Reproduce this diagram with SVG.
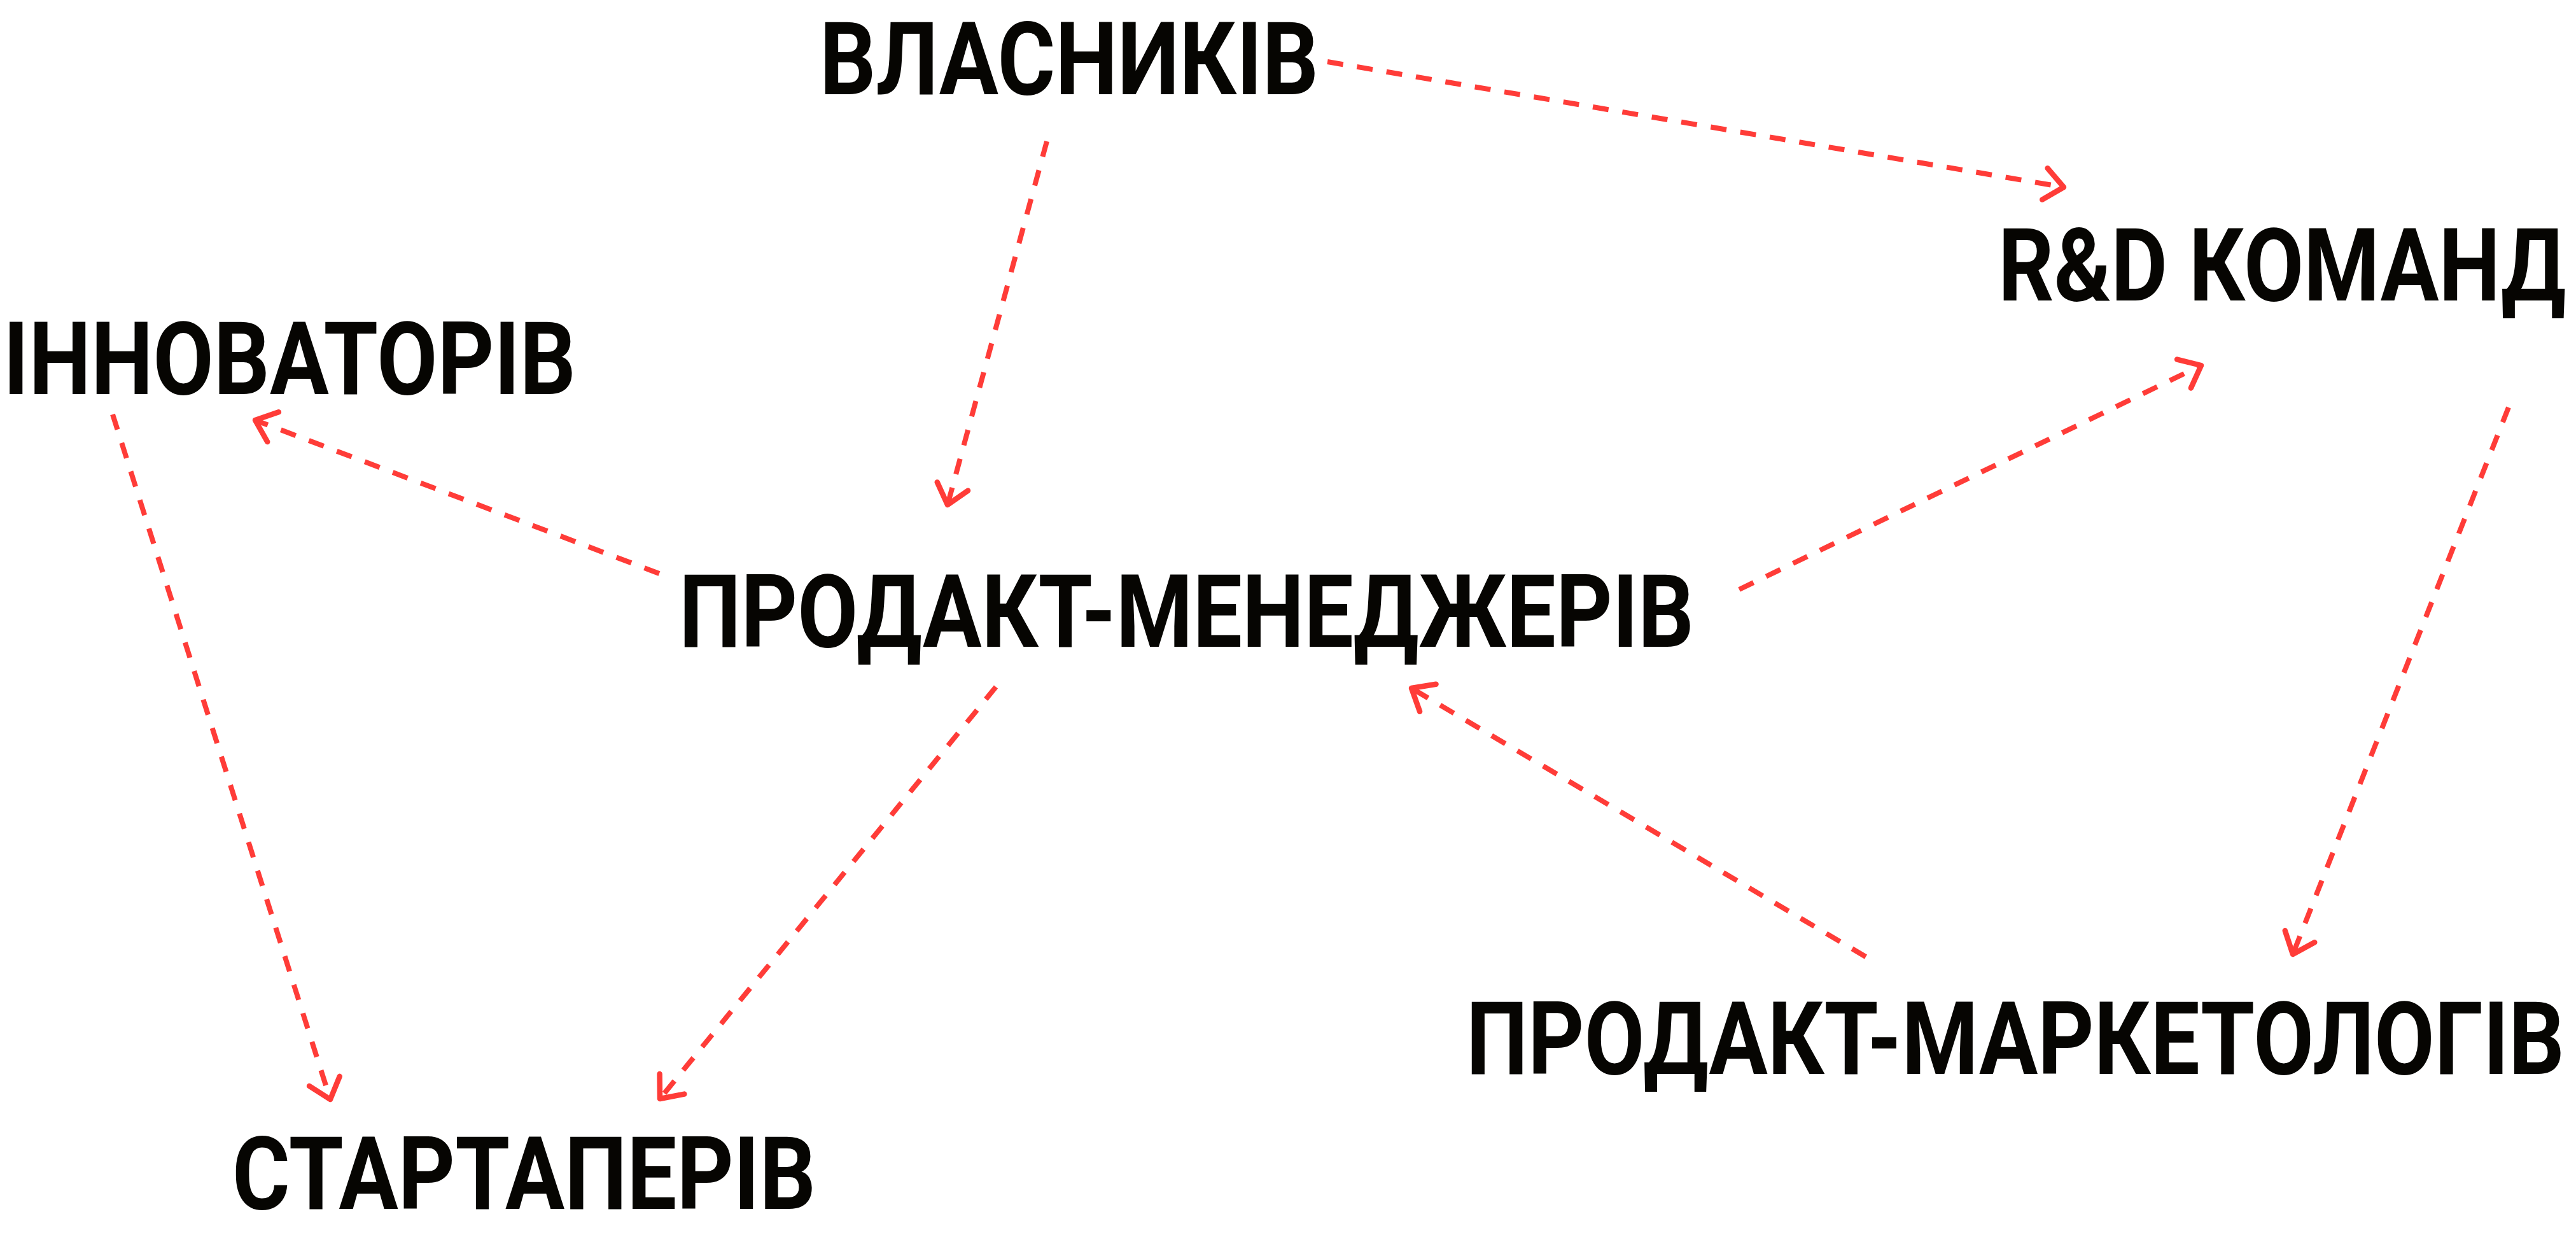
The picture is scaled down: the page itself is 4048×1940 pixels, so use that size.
<svg xmlns="http://www.w3.org/2000/svg" width="4048" height="1940" viewBox="0 0 4048 1940">
<style>
  .lbl { font-family: "Roboto", "Liberation Sans", sans-serif; font-weight: 700; font-size: 160px; fill: #060502; }
  .conn { fill: none; stroke: #ff3c38; stroke-width: 8; stroke-dasharray: 25 22; }
</style>
<defs>
  <marker id="arr" markerUnits="userSpaceOnUse" orient="auto" markerWidth="80" markerHeight="80" refX="0" refY="0" viewBox="-50 -40 60 80" overflow="visible">
    <path d="M -30 -25 L 0 0 L -30 25" fill="none" stroke="#ff3c38" stroke-width="8.5" stroke-linecap="round" stroke-linejoin="round"/>
  </marker>
</defs>
<rect width="4048" height="1940" fill="#ffffff"/>
<g id="connectors">
  <path class="conn" d="M 2086 97 L 3243 294" marker-end="url(#arr)"/>
  <path class="conn" d="M 1645 222 L 1489 793" marker-end="url(#arr)"/>
  <path class="conn" d="M 1036 901 L 401 660" marker-end="url(#arr)"/>
  <path class="conn" d="M 2733 926 L 3459 574" marker-end="url(#arr)"/>
  <path class="conn" d="M 1565 1079 L 1037 1726" marker-end="url(#arr)"/>
  <path class="conn" d="M 177 651 L 519 1727" marker-end="url(#arr)"/>
  <path class="conn" d="M 3942 640 L 3603 1499" marker-end="url(#arr)"/>
  <path class="conn" d="M 2932 1503 L 2218 1081" marker-end="url(#arr)"/>
</g>
<g id="node-vlasnykiv"><text class="lbl" x="1288" y="148" textLength="784" lengthAdjust="spacingAndGlyphs">ВЛАСНИКІВ</text></g>
<g id="node-rd"><text class="lbl" x="3140" y="472" textLength="892" lengthAdjust="spacingAndGlyphs">R&amp;D КОМАНД</text></g>
<g id="node-innovatoriv"><text class="lbl" x="5" y="619" textLength="900" lengthAdjust="spacingAndGlyphs">ІННОВАТОРІВ</text></g>
<g id="node-pm"><text class="lbl" x="1067" y="1016" textLength="1595" lengthAdjust="spacingAndGlyphs">ПРОДАКТ-МЕНЕДЖЕРІВ</text></g>
<g id="node-pmm"><text class="lbl" x="2304" y="1687" textLength="1726" lengthAdjust="spacingAndGlyphs">ПРОДАКТ-МАРКЕТОЛОГІВ</text></g>
<g id="node-startaperiv"><text class="lbl" x="365" y="1899" textLength="917" lengthAdjust="spacingAndGlyphs">СТАРТАПЕРІВ</text></g>
</svg>
